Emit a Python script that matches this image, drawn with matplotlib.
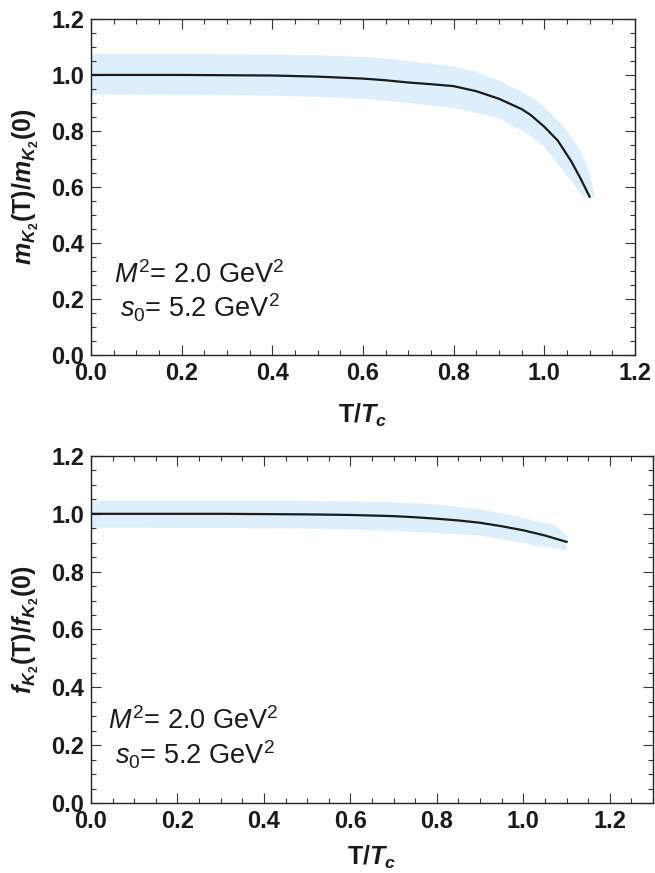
import numpy as np
import matplotlib
matplotlib.use("Agg")
import matplotlib.pyplot as plt
from matplotlib.ticker import MultipleLocator, FormatStrFormatter

plt.rcParams['font.family'] = ['Liberation Sans', 'DejaVu Sans']
plt.rcParams['mathtext.fontset'] = 'custom'
plt.rcParams['mathtext.rm'] = 'Liberation Sans'
plt.rcParams['mathtext.it'] = 'Liberation Sans:italic'
plt.rcParams['mathtext.bf'] = 'Liberation Sans:bold'
plt.rcParams['mathtext.bfit'] = 'Liberation Sans:italic:bold'

# mass ratio m_K2(T)/m_K2(0)
t_mass = [0, 0.1, 0.2, 0.3, 0.4, 0.5, 0.6, 0.65, 0.7, 0.75, 0.8, 0.85, 0.9, 0.95, 0.97, 1.0, 1.03, 1.06, 1.08, 1.1]
mass = [1.0, 1.0, 1.0, 0.999, 0.998, 0.994, 0.987, 0.981, 0.973, 0.967, 0.96, 0.942, 0.915, 0.878, 0.857, 0.815, 0.765, 0.69, 0.63, 0.565]
t_mass_up = [0, 0.1, 0.2, 0.3, 0.4, 0.5, 0.6, 0.65, 0.7, 0.75, 0.8, 0.85, 0.9, 0.95, 0.98, 1.0, 1.04, 1.08, 1.1, 1.112]
mass_up = [1.075, 1.075, 1.075, 1.074, 1.073, 1.07, 1.064, 1.058, 1.05, 1.04, 1.03, 1.012, 0.98, 0.94, 0.911, 0.885, 0.821, 0.73, 0.65, 0.565]
t_mass_lo = [0, 0.1, 0.2, 0.3, 0.4, 0.5, 0.6, 0.7, 0.8, 0.85, 0.9, 0.96, 1.0, 1.03, 1.06, 1.086]
mass_lo = [0.93, 0.93, 0.929, 0.928, 0.926, 0.922, 0.915, 0.9, 0.882, 0.865, 0.845, 0.792, 0.744, 0.68, 0.62, 0.565]

# decay constant ratio f_K2(T)/f_K2(0)
t_dec = [0, 0.1, 0.2, 0.3, 0.4, 0.5, 0.6, 0.7, 0.75, 0.8, 0.85, 0.9, 0.95, 1.0, 1.05, 1.1]
dec = [1.0, 1.0, 1.0, 1.0, 0.999, 0.998, 0.996, 0.992, 0.988, 0.983, 0.977, 0.969, 0.957, 0.943, 0.925, 0.903]
t_dec_up = [0, 0.1, 0.2, 0.3, 0.4, 0.5, 0.6, 0.7, 0.8, 0.9, 0.95, 1.0, 1.05, 1.07, 1.1]
dec_up = [1.045, 1.046, 1.046, 1.046, 1.046, 1.045, 1.043, 1.04, 1.032, 1.016, 1.002, 0.985, 0.968, 0.962, 0.927]
t_dec_lo = [0, 0.1, 0.2, 0.3, 0.4, 0.5, 0.6, 0.7, 0.8, 0.9, 0.95, 1.0, 1.03, 1.05, 1.1]
dec_lo = [0.952, 0.952, 0.951, 0.951, 0.95, 0.949, 0.946, 0.941, 0.933, 0.925, 0.912, 0.899, 0.888, 0.887, 0.873]

band = '#ddeffa'


def style(ax, xmax):
    ax.set_xlim(0, xmax)
    ax.set_ylim(0, 1.2)
    ax.xaxis.set_major_locator(MultipleLocator(0.2))
    ax.xaxis.set_minor_locator(MultipleLocator(0.05))
    ax.yaxis.set_major_locator(MultipleLocator(0.2))
    ax.yaxis.set_minor_locator(MultipleLocator(0.05))
    ax.xaxis.set_major_formatter(FormatStrFormatter('%.1f'))
    ax.yaxis.set_major_formatter(FormatStrFormatter('%.1f'))
    ax.tick_params(which='both', direction='in', top=True, right=True, width=0.8, color='#333333')
    ax.tick_params(which='major', length=7, pad=5, labelsize=17)
    ax.tick_params(which='minor', length=3.5)
    for lab in ax.get_xticklabels() + ax.get_yticklabels():
        lab.set_fontweight('bold')
        lab.set_color('#1a1a1a')
    for s in ax.spines.values():
        s.set_linewidth(1.0)
        s.set_color('#222222')
    ax.set_xlabel(r'T/$\mathbfit{T}_{\mathbfit{c}}$', fontsize=18, fontweight='bold',
                  color='#1a1a1a', va='center')


fig = plt.figure(figsize=(6.55, 8.73), dpi=100)

ax1 = fig.add_axes([0.1389, 0.5934, 0.8305, 0.3849])
ax1.fill(np.concatenate([t_mass_up, t_mass_lo[::-1]]),
         np.concatenate([mass_up, mass_lo[::-1]]), color=band, lw=0)
ax1.plot(t_mass, mass, color='#1a1a1a', lw=1.6)
style(ax1, 1.2)
ax1.set_ylabel(r'$\mathbfit{m}_{\mathbfit{K}_\mathbf{2}}$(T)/$\mathbfit{m}_{\mathbfit{K}_\mathbf{2}}$(0)',
               fontsize=18, fontweight='bold', color='#1a1a1a', va='center')
ax1.yaxis.set_label_coords(-0.119, 0.5)
ax1.xaxis.set_label_coords(0.5, -0.179)
ax1.text(0.05, 0.285, r'$M^2$= 2.0 GeV$^2$', fontsize=19.5, va='center', color='#1a1a1a')
ax1.text(0.065, 0.17, r'$s_0$= 5.2 GeV$^2$', fontsize=19.5, va='center', color='#1a1a1a')

ax2 = fig.add_axes([0.1389, 0.0802, 0.858, 0.3975])
ax2.fill(np.concatenate([t_dec_up, t_dec_lo[::-1]]),
         np.concatenate([dec_up, dec_lo[::-1]]), color=band, lw=0)
ax2.plot(t_dec, dec, color='#1a1a1a', lw=1.6)
style(ax2, 1.3)
ax2.set_ylabel(r'$\mathbfit{f}_{\mathbfit{K}_\mathbf{2}}$(T)/$\mathbfit{f}_{\mathbfit{K}_\mathbf{2}}$(0)',
               fontsize=18, fontweight='bold', color='#1a1a1a', va='center')
ax2.yaxis.set_label_coords(-0.116, 0.5)
ax2.xaxis.set_label_coords(0.5, -0.158)
ax2.text(0.04, 0.282, r'$M^2$= 2.0 GeV$^2$', fontsize=19.5, va='center', color='#1a1a1a')
ax2.text(0.055, 0.167, r'$s_0$= 5.2 GeV$^2$', fontsize=19.5, va='center', color='#1a1a1a')

fig.savefig('out.png', dpi=100)
